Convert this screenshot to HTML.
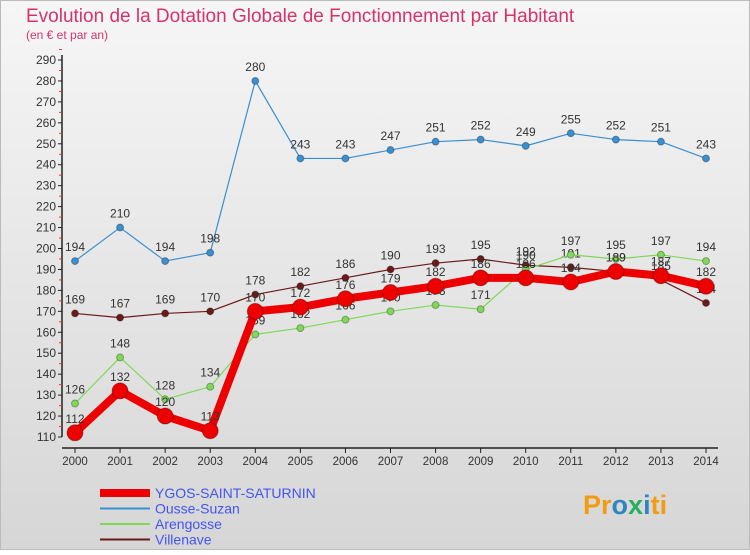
<!DOCTYPE html>
<html><head><meta charset="utf-8"><style>
body{margin:0;width:750px;height:550px;overflow:hidden;font-family:"Liberation Sans",sans-serif}
</style></head><body>
<svg id="c" width="750" height="550" xmlns="http://www.w3.org/2000/svg">
<defs><linearGradient id="bg" x1="0" y1="0" x2="0" y2="1"><stop offset="0" stop-color="#f6f6f6"/><stop offset="1" stop-color="#d6d6d6"/></linearGradient></defs>
<rect x="0.5" y="0.5" width="749" height="549" fill="url(#bg)" stroke="#bbb"/>
<text x="26" y="22" font-size="19" fill="#d6336c">Evolution de la Dotation Globale de Fonctionnement par Habitant</text>
<text x="26" y="39" font-size="12" fill="#d6336c">(en € et par an)</text>
<g id="axes"></g><g id="series"></g><g id="legend"></g>
<text x="583" y="514" font-size="27" font-weight="bold" fill="#f39c12">Pr<tspan fill="#2e86c1">o</tspan><tspan fill="#27ae60">x</tspan><tspan fill="#2e86c1">i</tspan><tspan fill="#f39c12">ti</tspan></text>
</svg>
<script>
const years=[2000,2001,2002,2003,2004,2005,2006,2007,2008,2009,2010,2011,2012,2013,2014];
const ygos=[112,132,120,113,170,172,176,179,182,186,186,184,189,187,182];
const ousse=[194,210,194,198,280,243,243,247,251,252,249,255,252,251,243];
const arengosse=[126,148,128,134,159,162,166,170,173,171,190,197,195,197,194];
const villenave=[169,167,169,170,178,182,186,190,193,195,192,191,189,185,174];
const yTicks=[110,120,130,140,150,160,170,180,190,200,210,220,230,240,250,260,270,280,290];
const NS="http://www.w3.org/2000/svg";
const X=i=>75+i*(706-75)/(years.length-1);
const Y=v=>437-(v-110)*(437-60)/180;
function mk(t,a,p){const e=document.createElementNS(NS,t);for(const k in a)e.setAttribute(k,a[k]);p.appendChild(e);return e;}
const ax=document.getElementById('axes');
const yl=mk('line',{x1:62,y1:55,x2:62,y2:437,stroke:'#222','stroke-width':1.5},ax);


const xl=mk('line',{x1:62,y1:448,x2:718,y2:448,stroke:'#222','stroke-width':1.5},ax);


yTicks.forEach(v=>{
  mk('line',{x1:58,y1:Y(v),x2:62,y2:Y(v),stroke:'#222'},ax);
  mk('line',{x1:59,y1:Y(v+5),x2:62,y2:Y(v+5),stroke:'#e33'},ax);
  const t=mk('text',{x:56,y:Y(v)+4,'font-size':12,'text-anchor':'end',fill:'#333'},ax);t.textContent=v;
  
  
});
years.forEach((y,i)=>{
  mk('line',{x1:X(i),y1:448,x2:X(i),y2:453,stroke:'#222'},ax);
  const t=mk('text',{x:X(i),y:465,'font-size':11.5,'text-anchor':'middle',fill:'#333'},ax);t.textContent=y;
  
  
});
const sg=document.getElementById('series');
function series(vals,color,w,r,name,labels){
  const g=mk('g',{},sg);
  
  
  mk('polyline',{points:vals.map((v,i)=>X(i)+','+Y(v)).join(' '),fill:'none',stroke:color,'stroke-width':w,'stroke-linejoin':'round'},g);
  vals.forEach((v,i)=>{
    const c=mk('circle',{cx:X(i),cy:Y(v),r:r,fill:color,stroke:'rgba(0,0,0,0.3)','stroke-width':1},g);
    
    
    const t=mk('text',{x:X(i),y:Y(v)-10,'font-size':12,'text-anchor':'middle',fill:'#333'},g);t.textContent=v;
    
    
  });
}
series(ousse,'#3a8fd0',1.2,3.5,'series-ousse-suzan');
series(villenave,'#6b1a1a',1.2,3.5,'series-villenave');
series(arengosse,'#7ed957',1.2,3.5,'series-arengosse');
series(ygos,'#ee0000',8,8,'series-ygos');
const lg=document.getElementById('legend');
const items=[['YGOS-SAINT-SATURNIN','#ee0000',8],['Ousse-Suzan','#3a8fd0',2],['Arengosse','#7ed957',2],['Villenave','#6b1a1a',2]];
items.forEach((it,k)=>{
  const y=493+k*15.5;
  const g=mk('g',{},lg);
  
  
  mk('line',{x1:100,y1:y,x2:150,y2:y,stroke:it[1],'stroke-width':it[2]},g);
  const t=mk('text',{x:155,y:y+5,'font-size':14,fill:'#4455ee'},g);t.textContent=it[0];
});
</script>
</body></html>
